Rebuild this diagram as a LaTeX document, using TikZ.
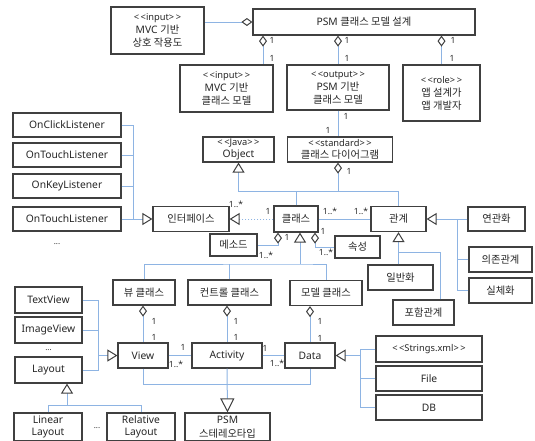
\documentclass[tikz,border=0pt]{standalone}
\usepackage{fontspec}
\setmainfont{Noto Sans}
\newfontfamily\krfont{Noto Sans CJK KR}
\newcommand{\kr}[1]{{\krfont #1}}
\newcommand{\stereo}[1]{{\fontsize{9.3}{13}\selectfont #1}}
\usetikzlibrary{arrows.meta}
\definecolor{boxline}{HTML}{404040}
\definecolor{linkblue}{HTML}{8EB4E3}
\definecolor{inkgray}{HTML}{262626}
\begin{document}
\begin{tikzpicture}[x=1pt,y=-1pt,
  box/.style={draw=boxline, line width=1.2pt, fill=white, text=inkgray, inner sep=0pt,
    align=center, font=\fontsize{10.3}{13}\selectfont},
  sz/.style 2 args={minimum width=#1pt, minimum height=#2pt},
  link/.style={draw=linkblue, line width=1pt},
  inh/.style={link, -{Triangle[open,length=10pt,width=12pt,color=boxline,fill=white,line width=1pt]}},
  biginh/.style={link, -{Triangle[open,length=14pt,width=14pt,color=boxline,fill=white,line width=1pt]}},
  agg/.style={link, {Diamond[open,length=11pt,width=8pt,color=boxline,fill=white,line width=1pt]}-},
  real/.style={inh, dash pattern=on 1.5pt off 1.5pt},
  lab/.style={text=inkgray, inner sep=0pt, font=\fontsize{8.5}{10}\selectfont},
  dots/.style={text=inkgray, inner sep=0pt, font=\fontsize{8}{10}\selectfont}
]
\path[use as bounding box] (0,0) rectangle (535,440);

% ---------- top: model design ----------
\node[box, sz={93}{47}] (in1) at (157.5,30.5) {\stereo{<\,<input>\,>}\\MVC \kr{기반}\\\kr{상호 작용도}};
\node[box, sz={222}{26}] (psm) at (364,22) {PSM \kr{클래스 모델 설계}};
\node[box, sz={93}{47}] (in2) at (226.5,88.5) {\stereo{<\,<input>\,>}\\MVC \kr{기반}\\\kr{클래스 모델}};
\node[box, sz={102}{45}] (out) at (338,87.5) {\stereo{<\,<output>\,>}\\PSM \kr{기반}\\\kr{클래스 모델}};
\node[box, sz={77}{56}] (role) at (441.5,93) {\stereo{<\,<role>\,>}\\\kr{앱 설계가}\\\kr{앱 개발자}};

\node[box, sz={71}{25}, font=\fontsize{10.3}{12}\selectfont] (obj) at (238.5,149.5) {\stereo{<\,<Java>\,>}\\Object};
\node[box, sz={105}{25}, font=\fontsize{10.3}{12}\selectfont] (std) at (340,149.5) {\stereo{<\,<standard>\,>}\\\kr{클래스 다이어그램}};

% ---------- listeners and interface ----------
\node[box, sz={108}{24}] (l1) at (67,125) {OnClickListener};
\node[box, sz={108}{24}] (l2) at (67,155) {OnTouchListener};
\node[box, sz={108}{24}] (l3) at (67,186) {OnKeyListener};
\node[box, sz={108}{24}] (l4) at (67,219) {OnTouchListener};
\node[dots] (ldots) at (57,244) {...};
\node[box, sz={76}{25}] (ifc) at (191,219) {\kr{인터페이스}};

% ---------- class, relations ----------
\node[box, sz={44}{26}] (cls) at (296,219) {\kr{클래스}};
\node[box, sz={55}{25}] (rel) at (398.5,219) {\kr{관계}};
\node[box, sz={57}{24}] (assoc) at (496.5,219) {\kr{연관화}};
\node[box, sz={63}{25}] (dep) at (500.5,259.5) {\kr{의존관계}};
\node[box, sz={63}{25}] (rlz) at (500.5,290.5) {\kr{실체화}};
\node[box, sz={65}{25}] (gen) at (400.5,277.5) {\kr{일반화}};
\node[box, sz={61}{25}] (inc) at (423.5,312.5) {\kr{포함관계}};
\node[box, sz={47}{22}] (meth) at (233.5,245) {\kr{메소드}};
\node[box, sz={45}{22}] (attr) at (357.5,247) {\kr{속성}};

% ---------- MVC classes ----------
\node[box, sz={62}{25}] (vc) at (144,292.5) {\kr{뷰 클래스}};
\node[box, sz={83}{25}] (cc) at (229.5,292.5) {\kr{컨트롤 클래스}};
\node[box, sz={72}{25}] (mc) at (326,293) {\kr{모델 클래스}};

\node[box, sz={67}{26}] (tv) at (48.5,300) {TextView};
\node[box, sz={67}{26}] (iv) at (48.5,330) {ImageView};
\node[dots] (vdots) at (48.5,350) {...};
\node[box, sz={67}{26}] (lay) at (48.5,370) {Layout};

\node[box, sz={50}{25}] (view) at (143,355.5) {View};
\node[box, sz={70}{25}] (act) at (227,355.5) {Activity};
\node[box, sz={50}{25}] (data) at (310,355.5) {Data};

\node[box, sz={68}{28}, font=\fontsize{10.3}{12}\selectfont] (lin) at (48,427) {Linear\\Layout};
\node[dots] (ldots2) at (97,428) {...};
\node[box, sz={68}{28}, font=\fontsize{10.3}{12}\selectfont] (rela) at (141,427) {Relative\\Layout};
\node[box, sz={85}{28}, font=\fontsize{10.3}{14}\selectfont] (psm2) at (227.5,427) {PSM\\\kr{스테레오타입}};

\node[box, sz={106}{26}] (str) at (429,349) {\stereo{<\,<Strings.xml>\,>}};
\node[box, sz={106}{25}] (file) at (429,378.5) {File};
\node[box, sz={106}{25}] (db) at (429,407.5) {DB};

% ---------- helper points for orthogonal routing ----------
\coordinate (c1) at (263,0);
\coordinate (bus) at (0,191);
\coordinate (jl) at (133,0);
\coordinate (jr) at (457,0);
\coordinate (ji) at (440,252);
\coordinate (dm) at (278,0);
\coordinate (da) at (315,0);
\coordinate (gb) at (300,264);
\coordinate (yb) at (0,384);
\coordinate (jv) at (98,0);
\coordinate (gl) at (67,405);
\coordinate (jd) at (360,0);

% ---------- connectors: top ----------
\draw[agg] (psm.west) -- (psm.west -| in1.east);
\draw[agg] (psm.south -| c1) -- (in2.north -| c1);
\draw[agg] (psm.south -| out.north) -- (out.north);
\draw[agg] (psm.south -| role.north) -- (role.north);
\draw[link] (out.south) -- (out.south |- std.north);
\draw[agg] (std.south -| out.south) -- (out.south |- bus);
\draw[inh] (cls.north) |- (obj.south |- bus) -- (obj.south);
\draw[link] (rel.north) |- (cls.north |- bus);

% ---------- connectors: listeners ----------
\draw[link] (l1.east) -| (jl |- ifc.west);
\draw[link] (l2.east) -- (l2.east -| jl);
\draw[link] (l3.east) -- (l3.east -| jl);
\draw[inh] (l4.east) -- (ifc.west);
\draw[real] (cls.west) -- (ifc.east);

% ---------- connectors: class and relations ----------
\draw[link] (cls.east) -- (rel.west);
\draw[inh] (assoc.west) -- (rel.east);
\draw[link] (dep.west) -| (jr |- rel.east);
\draw[link] (rlz.west) -| (jr |- rel.east);
\draw[inh] (gen.north -| rel.south) -- (rel.south);
\draw[link] (inc.north -| ji) -- (ji) -- (ji -| rel.south);
\draw[agg] (cls.south -| dm) |- (meth.east);
\draw[agg] (cls.south -| da) |- (attr.west);

% ---------- connectors: MVC ----------
\draw[inh] (gb) -- (gb |- cls.south);
\draw[link] (vc.north) |- (gb) -| (mc.north);
\draw[link] (cc.north) -- (cc.north |- gb);
\draw[agg] (vc.south -| view.north) -- (view.north);
\draw[agg] (cc.south -| act.north) -- (act.north);
\draw[agg] (mc.south -| data.north) -- (data.north);
\draw[link] (view.east) -- (act.west);
\draw[link] (act.east) -- (data.west);
\draw[link] (view.south) |- (yb -| data.south) -- (data.south);
\draw[biginh] (act.south) -- (psm2.north);

\draw[link] (tv.east) -| (jv |- view.west);
\draw[link] (lay.east) -| (jv |- view.west);
\draw[link] (iv.east) -- (iv.east -| jv);
\draw[inh] (jv |- view.west) -- (view.west);
\draw[inh] (gl) -- (gl |- lay.south);
\draw[link] (lin.north) |- (gl) -| (rela.north);

\draw[inh] (jd |- data.east) -- (data.east);
\draw[link] (str.west) -| (jd |- data.east);
\draw[link] (db.west) -| (jd |- data.east);
\draw[link] (file.west) -- (file.west -| jd);

% ---------- multiplicities ----------
\node[lab] at (272,40) {1};  \node[lab] at (272,58) {1};
\node[lab] at (347,40) {1};  \node[lab] at (347,58) {1};
\node[lab] at (453,40) {1};  \node[lab] at (452,58) {1};
\node[lab] at (346,116) {1}; \node[lab] at (328,130) {1};
\node[lab] at (349,171) {1};
\node[lab] at (236,204) {1..*}; \node[lab] at (268,211) {1};
\node[lab] at (330,211) {1..*}; \node[lab] at (361,211) {1..*};
\node[lab] at (287,237) {1};    \node[lab] at (266,255) {1..*};
\node[lab] at (323,231) {1};    \node[lab] at (326,252) {1..*};
\node[lab] at (154,321) {1};    \node[lab] at (154,337) {1};
\node[lab] at (236,321) {1};    \node[lab] at (236,337) {1};
\node[lab] at (320,321) {1};    \node[lab] at (320,338) {1};
\node[lab] at (183,347) {1};    \node[lab] at (176,364) {1..*};
\node[lab] at (265,348) {1};    \node[lab] at (277,363) {1..*};
\end{tikzpicture}
\end{document}
